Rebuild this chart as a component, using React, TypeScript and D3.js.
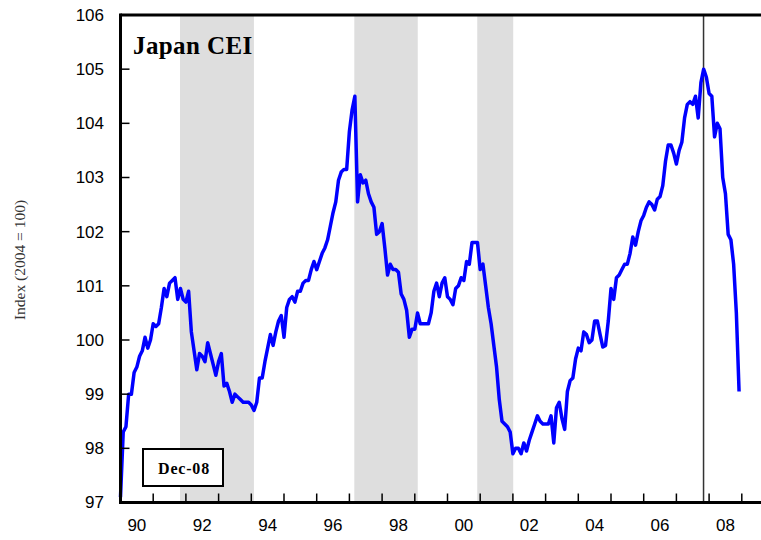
import React from "react";
import * as d3 from "d3";

// Monthly values, Jan 1990 .. Dec 2008
const startYear = 1990;
const cei: number[] = [
  // 1990
  97.1, 98.3, 98.4, 99.0, 99.0, 99.4, 99.5, 99.7, 99.8, 100.05, 99.85, 100.0,
  // 1991
  100.3, 100.25, 100.3, 100.6, 100.95, 100.8, 101.05, 101.1, 101.15, 100.75, 100.95, 100.75,
  // 1992
  100.7, 100.9, 100.15, 99.8, 99.45, 99.75, 99.7, 99.6, 99.95, 99.75, 99.55, 99.35,
  // 1993
  99.6, 99.75, 99.15, 99.2, 99.05, 98.85, 99.0, 98.95, 98.9, 98.85, 98.85, 98.85,
  // 1994
  98.8, 98.7, 98.85, 99.3, 99.3, 99.6, 99.85, 100.1, 99.9, 100.15, 100.35, 100.45,
  // 1995
  100.05, 100.6, 100.75, 100.8, 100.7, 100.9, 100.9, 101.05, 101.1, 101.1, 101.3, 101.45,
  // 1996
  101.3, 101.45, 101.6, 101.7, 101.85, 102.1, 102.35, 102.55, 102.95, 103.1, 103.15, 103.15,
  // 1997
  103.85, 104.25, 104.5, 102.55, 103.05, 102.9, 102.95, 102.7, 102.55, 102.45, 101.95, 102.0,
  // 1998
  102.15, 101.7, 101.2, 101.4, 101.3, 101.3, 101.25, 100.85, 100.75, 100.55, 100.05, 100.2,
  // 1999
  100.2, 100.5, 100.3, 100.3, 100.3, 100.3, 100.5, 100.9, 101.05, 100.8, 101.05, 101.15,
  // 2000
  100.8, 100.75, 100.65, 100.95, 101.0, 101.15, 101.1, 101.45, 101.4, 101.8, 101.8, 101.8,
  // 2001
  101.3, 101.4, 101.0, 100.6, 100.3, 99.9, 99.5, 98.9, 98.5, 98.45, 98.4, 98.3,
  // 2002
  97.9, 98.0, 98.0, 97.9, 98.1, 97.95, 98.15, 98.3, 98.45, 98.6, 98.5, 98.45,
  // 2003
  98.45, 98.45, 98.6, 98.1, 98.75, 98.85, 98.55, 98.35, 99.05, 99.25, 99.3, 99.65,
  // 2004
  99.85, 99.8, 100.15, 100.1, 99.95, 100.0, 100.35, 100.35, 100.1, 99.87, 99.9, 100.35,
  // 2005
  100.95, 100.75, 101.15, 101.2, 101.3, 101.4, 101.4, 101.6, 101.9, 101.75, 102.0, 102.2,
  // 2006
  102.3, 102.45, 102.55, 102.5, 102.4, 102.6, 102.65, 102.85, 103.3, 103.6, 103.6, 103.45,
  // 2007
  103.25, 103.5, 103.65, 104.1, 104.35, 104.4, 104.35, 104.5, 104.1, 104.75, 105.0, 104.85,
  // 2008
  104.55, 104.5, 103.75, 104.0, 103.9, 103.0, 102.7, 101.95, 101.85, 101.4, 100.5, 99.05,
];

// Recession shading (start, end) as fractional years
const recessions: [number, number][] = [
  [1991.82, 1994.08],
  [1997.15, 1999.09],
  [2000.91, 2002.01],
];
const peakMarker = 2007.83;

const yTicks = [97, 98, 99, 100, 101, 102, 103, 104, 105, 106];
const xTickYears = d3.range(1990, 2010);
const xLabelYears = [1990, 1992, 1994, 1996, 1998, 2000, 2002, 2004, 2006, 2008];

const title = "Japan CEI";
const stamp = "Dec-08";
const yLabel = "Index (2004 = 100)";

export default function App() {
  const W = 761;
  const H = 540;
  const left = 120.5;
  const right = 761;
  const top = 15;
  const bottom = 502.5;

  const x = d3.scaleLinear().domain([1990, 1990 + (right - left) / 32.7]).range([left, right]);
  const y = d3.scaleLinear().domain([97, 106]).range([bottom, top]);

  const pts = cei.map((v, i) => ({ t: startYear + i / 12, v }));
  const line = d3
    .line<{ t: number; v: number }>()
    .x((d) => x(d.t))
    .y((d) => y(d.v));

  return (
    <svg
      width={W}
      height={H}
      style={{ position: "absolute", left: 0, top: 0, background: "#fff" }}
    >
      <rect x={0} y={0} width={W} height={H} fill="#fff" />
      {recessions.map(([a, b], i) => (
        <rect key={i} x={x(a)} y={top} width={x(b) - x(a)} height={bottom - top} fill="#dedede" />
      ))}
      <line x1={x(peakMarker)} x2={x(peakMarker)} y1={top} y2={bottom} stroke="#333" strokeWidth={1.5} />
      <path d={line(pts) || ""} fill="none" stroke="#0000ff" strokeWidth={3.5} strokeLinejoin="round" />

      {/* axes frame */}
      <line x1={left} x2={right} y1={top} y2={top} stroke="#000" strokeWidth={3} />
      <line x1={left} x2={right} y1={bottom} y2={bottom} stroke="#000" strokeWidth={3} />
      <line x1={left} x2={left} y1={top - 1.5} y2={bottom + 1.5} stroke="#000" strokeWidth={3} />

      {yTicks.map((t) => (
        <g key={t}>
          <line x1={left} x2={left + 9} y1={y(t)} y2={y(t)} stroke="#000" strokeWidth={1.5} />
          <text
            x={104}
            y={y(t)}
            dy="0.35em"
            textAnchor="end"
            fontFamily="Liberation Sans, Arial, sans-serif"
            fontSize={17}
            fill="#000"
          >
            {t}
          </text>
        </g>
      ))}

      {xTickYears.map((yr) => (
        <line key={yr} x1={x(yr)} x2={x(yr)} y1={bottom} y2={bottom - 9} stroke="#000" strokeWidth={1.5} />
      ))}
      {xLabelYears.map((yr) => (
        <text
          key={yr}
          x={x(yr + 0.5)}
          y={531}
          textAnchor="middle"
          fontFamily="Liberation Sans, Arial, sans-serif"
          fontSize={17}
          fill="#000"
        >
          {String(yr % 100).padStart(2, "0")}
        </text>
      ))}

      <text
        x={133}
        y={54}
        fontFamily="Liberation Serif, Times New Roman, serif"
        fontWeight="bold"
        fontSize={25}
        letterSpacing={0.4}
        fill="#000"
      >
        {title}
      </text>

      <rect x={143} y={449} width={80} height={37} fill="#fff" stroke="#000" strokeWidth={2} />
      <text
        x={184}
        y={474}
        textAnchor="middle"
        fontFamily="Liberation Serif, Times New Roman, serif"
        fontWeight="bold"
        fontSize={16}
        letterSpacing={0.8}
        fill="#000"
      >
        {stamp}
      </text>

      <text
        transform="translate(25,260) rotate(-90)"
        textAnchor="middle"
        fontFamily="Liberation Serif, Times New Roman, serif"
        fontSize={15.5}
        fill="#333"
      >
        {yLabel}
      </text>
    </svg>
  );
}
